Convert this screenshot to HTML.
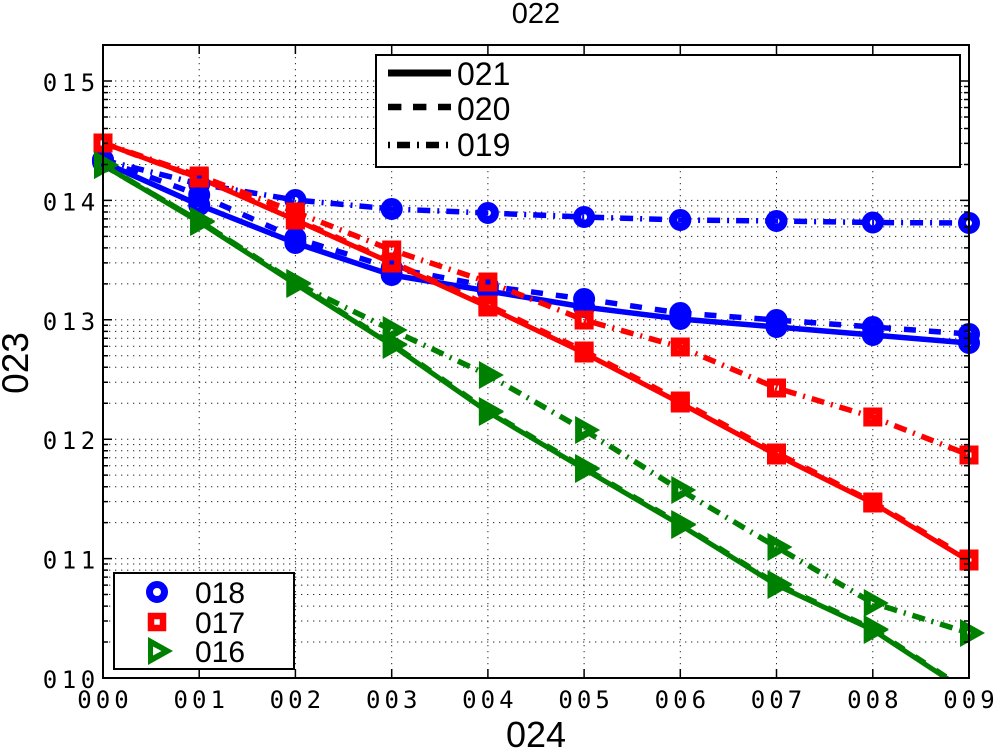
<!DOCTYPE html>
<html><head><meta charset="utf-8"><style>html,body{margin:0;padding:0;background:#fff;}svg{display:block}</style></head>
<body>
<svg width="995" height="750" viewBox="0 0 995 750" xmlns="http://www.w3.org/2000/svg">
<defs>
<clipPath id="ax"><rect x="103" y="45" width="866" height="633"/></clipPath>
<marker id="mc" markerUnits="userSpaceOnUse" markerWidth="40" markerHeight="40" viewBox="-20 -20 40 40" refX="0" refY="0" overflow="visible"><circle r="7" fill="none" stroke="#0000ff" stroke-width="8"/></marker>
<marker id="ms" markerUnits="userSpaceOnUse" markerWidth="40" markerHeight="40" viewBox="-20 -20 40 40" refX="0" refY="0" overflow="visible"><rect x="-6" y="-6" width="12" height="12" fill="none" stroke="#ff0000" stroke-width="7"/></marker>
<marker id="mt" markerUnits="userSpaceOnUse" markerWidth="40" markerHeight="40" viewBox="-20 -20 40 40" refX="0" refY="0" overflow="visible"><path d="M-9,-14 L16,0 L-9,14 Z M-2,-2 L-2,2 L2,0 Z" fill="#008000" fill-rule="evenodd"/></marker>
</defs>
<rect width="995" height="750" fill="#fff"/>

<!-- grid -->
<g stroke="#000" stroke-width="1" stroke-dasharray="1.3 4.7" fill="none" opacity="0.85">
<path d="M199.2 45V678M295.4 45V678M391.7 45V678M487.9 45V678M584.1 45V678M680.3 45V678M776.5 45V678M872.8 45V678"/>
<path d="M103 81H969M103 200.4H969M103 319.8H969M103 439.2H969M103 558.6H969
M103 642.06H969M103 621.03H969M103 606.11H969M103 594.54H969M103 585.09H969M103 577.09H969M103 570.17H969M103 564.06H969
M103 522.66H969M103 501.63H969M103 486.71H969M103 475.14H969M103 465.69H969M103 457.69H969M103 450.77H969M103 444.66H969
M103 403.26H969M103 382.23H969M103 367.31H969M103 355.74H969M103 346.29H969M103 338.29H969M103 331.37H969M103 325.26H969
M103 283.86H969M103 262.83H969M103 247.91H969M103 236.34H969M103 226.89H969M103 218.89H969M103 211.97H969M103 205.86H969
M103 164.46H969M103 143.43H969M103 128.51H969M103 116.94H969M103 107.49H969M103 99.49H969M103 92.57H969M103 86.46H969"/>
</g>

<!-- series lines -->
<g clip-path="url(#ax)" fill="none" stroke-linejoin="round">
<polyline stroke="#0000ff" stroke-width="5.5" points="103,162 199.2,205 295.4,243 391.7,275 487.9,291 584.1,307 680.3,319 776.5,327 872.8,335 969,343"/>
<polyline stroke="#0000ff" stroke-width="5.5" stroke-dasharray="12 13" points="103,160 199.2,195 295.4,238 391.7,268 487.9,286 584.1,299 680.3,313 776.5,320 872.8,327 969,334"/>
<polyline stroke="#0000ff" stroke-width="5.5" stroke-dasharray="13 7 2 7" points="103,160 199.2,184 295.4,200 391.7,209 487.9,213 584.1,217 680.3,220 776.5,221 872.8,222.5 969,223"/>
<polyline stroke="#ff0000" stroke-width="5" points="103,143 199.2,178 295.4,220 391.7,263 487.9,307 584.1,353 680.3,403 776.5,455 872.8,503 969,561"/>
<polyline stroke="#ff0000" stroke-width="5.5" stroke-dasharray="12 13" points="103,143 199.2,178 295.4,219 391.7,262 487.9,305 584.1,351 680.3,401 776.5,453 872.8,502 969,559"/>
<polyline stroke="#ff0000" stroke-width="5.5" stroke-dasharray="13 7 2 7" points="103,143 199.2,176 295.4,212 391.7,250 487.9,282 584.1,320 680.3,347 776.5,388 872.8,417 969,455"/>
<polyline stroke="#008000" stroke-width="5" points="103,165 199.2,222 295.4,284 391.7,345 487.9,412 584.1,469 680.3,525 776.5,585 872.8,630 969,693"/>
<polyline stroke="#008000" stroke-width="5.5" stroke-dasharray="12 13" points="103,165 199.2,221 295.4,283 391.7,344 487.9,411 584.1,468 680.3,524 776.5,584 872.8,629 969,692"/>
<polyline stroke="#008000" stroke-width="5.5" stroke-dasharray="13 7 2 7" points="103,165 199.2,221 295.4,283 391.7,330 487.9,375 584.1,430 680.3,490 776.5,547 872.8,603 969,633"/>
</g>

<!-- markers -->
<g fill="none" stroke="none">
<polyline marker-start="url(#mc)" marker-mid="url(#mc)" marker-end="url(#mc)" points="103,162 199.2,205 295.4,243 391.7,275 487.9,291 584.1,307 680.3,319 776.5,327 872.8,335 969,343"/>
<polyline marker-start="url(#mc)" marker-mid="url(#mc)" marker-end="url(#mc)" points="103,160 199.2,195 295.4,238 391.7,268 487.9,286 584.1,299 680.3,313 776.5,320 872.8,327 969,334"/>
<polyline marker-start="url(#mc)" marker-mid="url(#mc)" marker-end="url(#mc)" points="103,160 199.2,184 295.4,200 391.7,209 487.9,213 584.1,217 680.3,220 776.5,221 872.8,222.5 969,223"/>
<polyline marker-start="url(#ms)" marker-mid="url(#ms)" marker-end="url(#ms)" points="103,143 199.2,178 295.4,220 391.7,263 487.9,307 584.1,353 680.3,403 776.5,455 872.8,503 969,561"/>
<polyline marker-start="url(#ms)" marker-mid="url(#ms)" marker-end="url(#ms)" points="103,143 199.2,178 295.4,219 391.7,262 487.9,305 584.1,351 680.3,401 776.5,453 872.8,502 969,559"/>
<polyline marker-start="url(#ms)" marker-mid="url(#ms)" marker-end="url(#ms)" points="103,143 199.2,176 295.4,212 391.7,250 487.9,282 584.1,320 680.3,347 776.5,388 872.8,417 969,455"/>
<polyline marker-start="url(#mt)" marker-mid="url(#mt)" marker-end="url(#mt)" points="103,165 199.2,222 295.4,284 391.7,345 487.9,412 584.1,469 680.3,525 776.5,585 872.8,630"/>
<polyline marker-start="url(#mt)" marker-mid="url(#mt)" marker-end="url(#mt)" points="103,165 199.2,221 295.4,283 391.7,344 487.9,411 584.1,468 680.3,524 776.5,584 872.8,629"/>
<polyline marker-start="url(#mt)" marker-mid="url(#mt)" marker-end="url(#mt)" points="103,165 199.2,221 295.4,283 391.7,330 487.9,375 584.1,430 680.3,490 776.5,547 872.8,603 969,633"/>
</g>

<!-- axes box and ticks -->
<g stroke="#000" fill="none">
<rect x="103" y="45" width="866" height="633" stroke-width="2"/>
<path stroke-width="1.5" d="M199.2 678V669M295.4 678V669M391.7 678V669M487.9 678V669M584.1 678V669M680.3 678V669M776.5 678V669M872.8 678V669
M199.2 45V54M295.4 45V54M391.7 45V54M487.9 45V54M584.1 45V54M680.3 45V54M776.5 45V54M872.8 45V54
M103 81H112M103 200.4H112M103 319.8H112M103 439.2H112M103 558.6H112
M969 81H960M969 200.4H960M969 319.8H960M969 439.2H960M969 558.6H960"/>
<path stroke-width="1.5" d="M103 642.06h5M103 621.03h5M103 606.11h5M103 594.54h5M103 585.09h5M103 577.09h5M103 570.17h5M103 564.06h5
M103 522.66h5M103 501.63h5M103 486.71h5M103 475.14h5M103 465.69h5M103 457.69h5M103 450.77h5M103 444.66h5
M103 403.26h5M103 382.23h5M103 367.31h5M103 355.74h5M103 346.29h5M103 338.29h5M103 331.37h5M103 325.26h5
M103 283.86h5M103 262.83h5M103 247.91h5M103 236.34h5M103 226.89h5M103 218.89h5M103 211.97h5M103 205.86h5
M103 164.46h5M103 143.43h5M103 128.51h5M103 116.94h5M103 107.49h5M103 99.49h5M103 92.57h5M103 86.46h5
M969 642.06h-5M969 621.03h-5M969 606.11h-5M969 594.54h-5M969 585.09h-5M969 577.09h-5M969 570.17h-5M969 564.06h-5
M969 522.66h-5M969 501.63h-5M969 486.71h-5M969 475.14h-5M969 465.69h-5M969 457.69h-5M969 450.77h-5M969 444.66h-5
M969 403.26h-5M969 382.23h-5M969 367.31h-5M969 355.74h-5M969 346.29h-5M969 338.29h-5M969 331.37h-5M969 325.26h-5
M969 283.86h-5M969 262.83h-5M969 247.91h-5M969 236.34h-5M969 226.89h-5M969 218.89h-5M969 211.97h-5M969 205.86h-5
M969 164.46h-5M969 143.43h-5M969 128.51h-5M969 116.94h-5M969 107.49h-5M969 99.49h-5M969 92.57h-5M969 86.46h-5"/>
</g>

<!-- tick labels -->
<g font-family="'DejaVu Sans Mono', 'Liberation Mono', monospace" font-size="24" fill="#000" text-anchor="middle">
<text x="84.5 103 121.5" y="708">000</text>
<text x="180.7 199.2 217.7" y="708">001</text>
<text x="276.9 295.4 313.9" y="708">002</text>
<text x="373.2 391.7 410.2" y="708">003</text>
<text x="469.4 487.9 506.4" y="708">004</text>
<text x="565.6 584.1 602.6" y="708">005</text>
<text x="661.8 680.3 698.8" y="708">006</text>
<text x="758 776.5 795" y="708">007</text>
<text x="854.3 872.8 891.3" y="708">008</text>
<text x="950.5 969 987.5" y="708">009</text>
<text x="50 69 88" y="91">015</text>
<text x="50 69 88" y="210.4">014</text>
<text x="50 69 88" y="329.8">013</text>
<text x="50 69 88" y="449.2">012</text>
<text x="50 69 88" y="568.6">011</text>
<text x="50 69 88" y="688">010</text>
</g>

<!-- titles -->
<g font-family="'Liberation Sans', Arial, sans-serif" fill="#000" text-anchor="middle">
<text x="536" y="23" font-size="29">022</text>
<text x="536" y="747" font-size="36">024</text>
<text transform="translate(28,363) rotate(-90)" font-size="37">023</text>
</g>

<!-- top legend -->
<rect x="376" y="55" width="584" height="112" fill="#fff" stroke="#000" stroke-width="2"/>
<g stroke="#000" fill="none">
<path d="M388 73H451" stroke-width="7"/>
<path d="M388 107H451" stroke-width="6.5" stroke-dasharray="13.4 11.6"/>
<path d="M388 145H451" stroke-width="6.5" stroke-dasharray="2 7 13 7"/>
</g>
<g font-family="'Liberation Sans', Arial, sans-serif" font-size="32" fill="#000">
<text x="457" y="85">021</text>
<text x="457" y="120">020</text>
<text x="457" y="156">019</text>
</g>

<!-- bottom legend -->
<rect x="114" y="573" width="180" height="96" fill="#fff" stroke="#000" stroke-width="2"/>
<circle cx="157" cy="592" r="7.5" fill="none" stroke="#0000ff" stroke-width="7"/>
<rect x="151" y="616" width="12" height="12" fill="none" stroke="#ff0000" stroke-width="6.5"/>
<path transform="translate(157,651)" d="M-9,-14 L16,0 L-9,14 Z M-4,-4.5 L-4,4.5 L4.5,0 Z" fill="#008000" fill-rule="evenodd"/>
<g font-family="'Liberation Sans', Arial, sans-serif" font-size="30" fill="#000">
<text x="195" y="603">018</text>
<text x="195" y="633">017</text>
<text x="195" y="662">016</text>
</g>
</svg>
</body></html>
